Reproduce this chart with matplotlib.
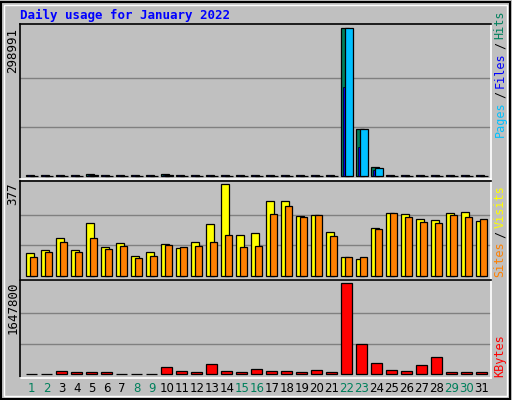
import matplotlib
matplotlib.use("Agg")
import matplotlib.pyplot as plt
import numpy as np

days = list(range(1, 32))
weekend = [1, 2, 8, 9, 15, 16, 22, 23, 29, 30]
hits = [1500, 1500, 1500, 1500, 4000, 1500, 1500, 1500, 1500, 4000, 1500, 1500, 1500, 1500, 1500, 1500, 1500, 1500, 1500, 1500, 1500,
        298991, 95130, 17670, 1500, 1500, 1500, 1500, 1500, 1500, 1500]
files = [1200, 1200, 1200, 1200, 2500, 1200, 1200, 1200, 1200, 2500, 1200, 1200, 1200, 1200, 1200, 1200, 1200, 1200, 1200, 1200, 1200,
         180750, 59120, 12230, 1200, 1200, 1200, 1200, 1200, 1200, 1200]
pages = [1000, 1000, 1000, 1000, 1500, 1000, 1000, 1000, 1000, 1500, 1000, 1000, 1000, 1000, 1000, 1000, 1000, 1000, 1000, 1000, 1000,
         298991, 95130, 15630, 1000, 1000, 1000, 1000, 1000, 1000, 1000]
visits = [95, 108, 157, 108, 218, 120, 136, 83, 99, 132, 116, 140, 214, 377, 169, 177, 308, 308, 246, 250, 181,
          79, 71, 197, 259, 255, 234, 230, 259, 263, 226]
sites = [79, 99, 140, 99, 157, 112, 124, 75, 83, 128, 120, 124, 140, 169, 120, 124, 255, 287, 242, 250, 165,
         79, 79, 193, 259, 242, 222, 218, 250, 242, 234]
kbytes = [12000, 12000, 60100, 42100, 42100, 42100, 12000, 12000, 12000, 132300, 60100, 42100, 186400, 60100, 42100,
          96200, 60100, 60100, 42100, 78200, 42100, 1647800, 547300, 204500, 78200, 60100, 168400, 312700,
          42100, 42100, 42100]

W, H = 512, 400
fig = plt.figure(figsize=(W/100, H/100), dpi=100, facecolor="#C0C0C0")
mono = "DejaVu Sans Mono"

def mkax(top, bot):
    ax = fig.add_axes([20/W, 1-bot/H, 471/W, (bot-top)/H])
    ax.set_facecolor("#C0C0C0")
    ax.set_xlim(0.22, 31.62)
    for s in ["top", "left"]:
        ax.spines[s].set_color("black")
    for s in ["bottom", "right"]:
        ax.spines[s].set_color("white")
    for s in ax.spines.values():
        s.set_linewidth(1.2)
    ax.set_xticks([]); ax.set_yticks([])
    return ax

d = np.array(days)
lw = 0.9
ax1 = mkax(24, 179)
m1 = max(hits)
ax1.set_ylim(-m1*0.02, m1*1.03)
for g in [m1/3, 2*m1/3]:
    ax1.axhline(g, color="#808080", lw=1, zorder=0)
ax1.bar(d-0.4, hits, 0.53, align="edge", color="#00805c", edgecolor="black", lw=lw)
ax1.bar(d-0.27, files, 0.13, align="edge", color="#0000ff", edgecolor="black", lw=0.5)
ax1.bar(d-0.11, pages, 0.5, align="edge", color="#00c0ff", edgecolor="black", lw=lw)
fig.text(13/W, 1-28/H, str(m1), rotation=90, ha="center", va="top", fontsize=9, family=mono)

ax2 = mkax(181, 280)
m2 = max(visits)
ax2.set_ylim(-m2*0.04, m2*1.03)
for g in [m2/3, 2*m2/3]:
    ax2.axhline(g, color="#808080", lw=1, zorder=0)
ax2.bar(d-0.4, visits, 0.53, align="edge", color="#ffff00", edgecolor="black", lw=lw)
ax2.bar(d-0.13, sites, 0.47, align="edge", color="#ff8000", edgecolor="black", lw=lw)
fig.text(13/W, 1-182/H, str(m2), rotation=90, ha="center", va="top", fontsize=9, family=mono)

ax3 = mkax(280, 378)
m3 = max(kbytes)
ax3.set_ylim(-m3*0.04, m3*1.03)
for g in [m3/3, 2*m3/3]:
    ax3.axhline(g, color="#808080", lw=1, zorder=0)
ax3.bar(d-0.4, kbytes, 0.78, align="edge", color="#ff0000", edgecolor="black", lw=lw)
fig.text(13/W, 1-282/H, str(m3), rotation=90, ha="center", va="top", fontsize=9, family=mono)

for dd in days:
    x = 20/W + (dd - 0.22) * 15 / W
    fig.text(x, 1-389/H, str(dd), ha="center", va="center", fontsize=8.5,
             color="#00805c" if dd in weekend else "black")

fig.text(20/W, 1-15/H, "Daily usage for January 2022", color="#0000ff", fontsize=9,
         fontweight="bold", family=mono, va="center")

def vlabel(parts, ybot):
    y = ybot
    for txt, col in parts:
        fig.text(500/W, 1-y/H, txt, rotation=90, color=col, fontsize=8.5,
                 family=mono, ha="center", va="bottom")
        y -= len(txt) * 7.2 + 3
vlabel([("Pages", "#00c0ff"), ("/", "black"), ("Files", "#0000ff"), ("/", "black"), ("Hits", "#00805c")], 137)
vlabel([("Sites", "#ff8000"), ("/", "black"), ("Visits", "#ffff00")], 277)
vlabel([("KBytes", "#ff0000")], 377)

fig.patches.append(plt.Rectangle((1/W, 1/H), 1-3/W, 1-3/H, transform=fig.transFigure,
                                 fill=False, edgecolor="black", lw=1.5))
fig.patches.append(plt.Rectangle((4/W, 4/H), 1-9/W, 1-9/H, transform=fig.transFigure,
                                 fill=False, edgecolor="white", lw=1))
fig.savefig("out.png", dpi=100, facecolor=fig.get_facecolor())
